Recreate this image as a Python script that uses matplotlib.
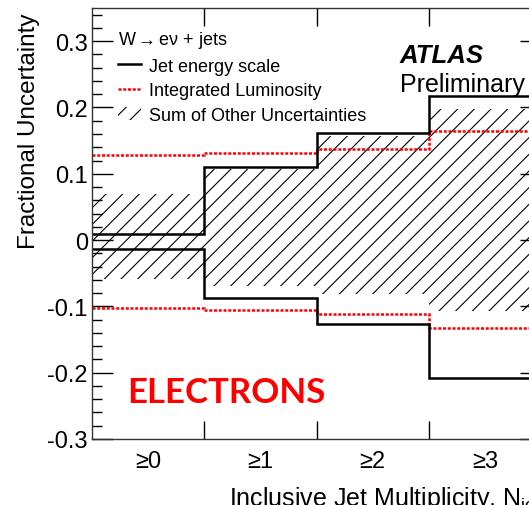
import numpy as np
import matplotlib
matplotlib.use("Agg")
import matplotlib.pyplot as plt
from matplotlib.lines import Line2D
from matplotlib.patches import Patch

# jet multiplicity bins
bins = ["≥0", "≥1", "≥2", "≥3"]

# jet energy scale (upper / lower)
jes_up = [0.009, 0.110, 0.161, 0.217]
jes_dn = [-0.014, -0.088, -0.127, -0.208]

# integrated luminosity
lumi_up = [0.128, 0.131, 0.137, 0.165]
lumi_dn = [-0.103, -0.105, -0.112, -0.133]

# sum of other uncertainties (hatched band)
other_up = [0.069, 0.107, 0.157, 0.197]
other_dn = [-0.059, -0.069, -0.081, -0.107]

yticks = [-0.3, -0.2, -0.1, 0.0, 0.1, 0.2, 0.3]
ytick_labels = ["-0.3", "-0.2", "-0.1", "0", "0.1", "0.2", "0.3"]

plt.rcParams["font.family"] = ["Liberation Sans", "DejaVu Sans"]
plt.rcParams["mathtext.fontset"] = "custom"
plt.rcParams["mathtext.rm"] = "Liberation Sans"
plt.rcParams["mathtext.it"] = "Liberation Sans:italic"
plt.rcParams["hatch.linewidth"] = 0.8

W, H = 529, 506
fig = plt.figure(figsize=(W / 100, H / 100), dpi=100)
ax = fig.add_axes([92 / W, 66 / H, 449 / W, 431 / H])

x = np.arange(len(bins))
edges = np.arange(len(bins) + 1) - 0.5

# hatched band
ax.bar(x, np.array(other_up) - np.array(other_dn), bottom=other_dn, width=1.0,
       fill=False, hatch="//", edgecolor="black", linewidth=0)

# luminosity
lumi_style = dict(color="red", lw=1.8, linestyle=(0, (1.2, 0.7)))
ax.stairs(lumi_up, edges, baseline=None, **lumi_style)
ax.stairs(lumi_dn, edges, baseline=None, **lumi_style)

# jet energy scale
ax.stairs(jes_up, edges, baseline=None, color="black", lw=1.8)
ax.stairs(jes_dn, edges, baseline=None, color="black", lw=1.8)

ax.set_xlim(-0.5, 3.5)
ax.set_ylim(-0.3, 0.35)

ax.set_yticks(yticks)
ax.set_yticklabels(ytick_labels)
ax.set_yticks(np.arange(-0.3, 0.35, 0.02), minor=True)
ax.set_xticks(edges[1:-1])
ax.set_xticklabels([])
ax.set_xticks(x, minor=True)
ax.set_xticklabels(bins, minor=True)

ax.tick_params(axis="both", which="both", direction="in", top=True, right=True,
               labelsize=17, colors="black", width=1.0)
ax.tick_params(axis="y", which="major", length=15, pad=3)
ax.tick_params(axis="y", which="minor", length=7)
ax.tick_params(axis="x", which="major", length=13)
ax.tick_params(axis="x", which="minor", length=0, pad=8)
for s in ax.spines.values():
    s.set_linewidth(1.0)
    s.set_color("#333333")

ax.set_ylabel("Fractional Uncertainty", loc="top", fontsize=17.5)
ax.yaxis.set_label_coords(-0.116, 0.99)

ax.text(1.0, -0.106, "Inclusive Jet Multiplicity, N$_{\\rm jet}$",
        transform=ax.transAxes, ha="right", va="top", fontsize=18)

# legend
handles = [
    Line2D([], [], color="black", lw=1.8),
    Line2D([], [], **lumi_style),
    Patch(facecolor="none", edgecolor="black", hatch="//", linewidth=0),
]
labels = ["Jet energy scale", "Integrated Luminosity", "Sum of Other Uncertainties"]
leg = ax.legend(handles, labels, title="W$\\rightarrow$eν + jets", loc="upper left",
                bbox_to_anchor=(118 / W, 1 - 30 / H), bbox_transform=fig.transFigure,
                frameon=False, fontsize=13, title_fontsize=13, alignment="left",
                borderpad=0, borderaxespad=0, handlelength=1.3, handletextpad=0.4,
                labelspacing=0.42)

ax.text(2.244, 0.268, "ATLAS", fontsize=18.5, fontweight="bold", style="italic")
ax.text(2.244, 0.225, "Preliminary", fontsize=18)

ax.text(-0.188, -0.244, "ELECTRONS", fontsize=25, fontweight="bold", color="red",
        family=["Lato", "DejaVu Sans"])

fig.savefig("out.png", dpi=100)
